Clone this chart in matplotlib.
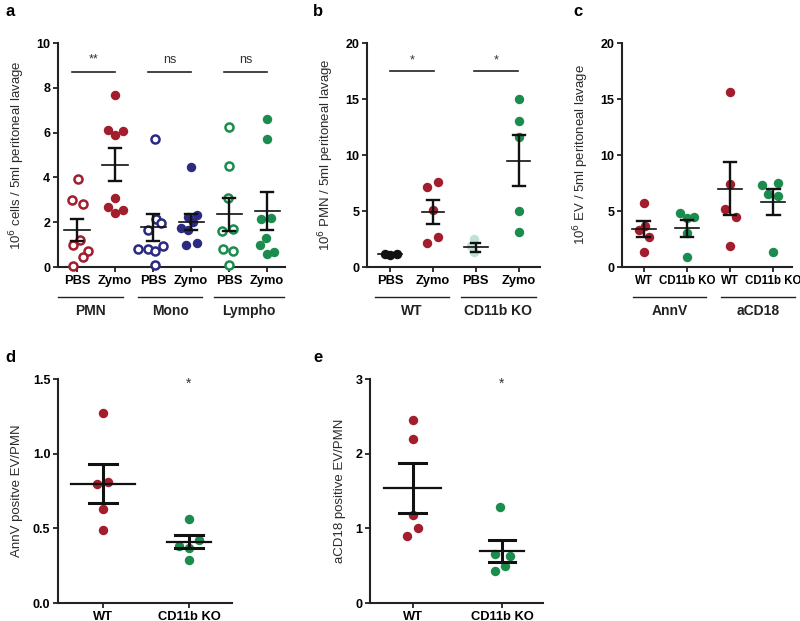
import matplotlib
matplotlib.use("Agg")
import matplotlib.pyplot as plt
import matplotlib.transforms as mtransforms

plt.rcParams['font.family'] = ['Liberation Sans', 'DejaVu Sans']

RED = '#a21d2e'
NAVY = '#2b2a80'
GREEN = '#1b8c4e'
LIGHT = '#bfe2d6'
BLACK = '#111111'

# ---- panel a: cells per lavage
a_ticks = ['PBS', 'Zymo', 'PBS', 'Zymo', 'PBS', 'Zymo']
a_groups = ['PMN', 'Mono', 'Lympho']
a_sig = ['**', 'ns', 'ns']
a_vals = [
    [3.95, 3.0, 2.8, 1.0, 1.2, 0.7, 0.45, 0.05],
    [7.7, 6.1, 5.9, 6.05, 3.1, 2.7, 2.4, 2.55],
    [5.7, 2.15, 1.97, 1.65, 0.8, 0.8, 0.7, 0.95, 0.1],
    [4.45, 2.25, 2.3, 2.0, 1.75, 1.65, 1.0, 1.05],
    [6.25, 4.5, 3.1, 1.6, 1.7, 0.8, 0.7, 0.1],
    [6.6, 5.7, 2.15, 2.2, 1.3, 1.0, 0.6, 0.65],
]
a_jit = [
    [0.03, -0.13, 0.16, -0.11, 0.08, 0.29, 0.16, -0.11],
    [0, -0.18, 0, 0.21, 0, -0.18, 0, 0.21],
    [0.05, 0.08, 0.21, -0.13, -0.39, -0.13, 0.05, 0.26, 0.05],
    [0, -0.08, 0.16, 0.05, -0.26, -0.08, -0.13, 0.16],
    [0, 0, -0.03, -0.2, 0.1, -0.17, 0.1, 0],
    [0, 0, -0.16, 0.11, -0.03, -0.2, 0, 0.17],
]
a_mean = [1.65, 4.57, 1.78, 2.0, 2.35, 2.5]
a_sem = [0.5, 0.74, 0.6, 0.37, 0.75, 0.83]
a_col = [RED, RED, NAVY, NAVY, GREEN, GREEN]
a_open = [True, False, True, False, True, False]

# ---- panel b: PMN per lavage
b_ticks = ['PBS', 'Zymo', 'PBS', 'Zymo']
b_groups = ['WT', 'CD11b KO']
b_vals = [
    [1.2, 1.05, 1.15],
    [7.1, 7.6, 5.1, 2.7, 2.1],
    [2.5, 1.9, 1.3],
    [15.0, 13.0, 11.6, 5.0, 3.1],
]
b_jit = [[-0.12, 0, 0.16], [-0.14, 0.12, 0, 0.12, -0.14], [-0.05, -0.1, -0.05], [0, 0, 0, 0, 0]]
b_mean = [1.15, 4.9, 1.75, 9.5]
b_sem = [0.06, 1.1, 0.37, 2.3]
b_col = [BLACK, RED, LIGHT, GREEN]

# ---- panel c: EV per lavage
c_ticks = ['WT', 'CD11b KO', 'WT', 'CD11b KO']
c_groups = ['AnnV', 'aCD18']
c_vals = [
    [5.7, 3.3, 3.7, 2.7, 1.35],
    [4.85, 4.4, 4.5, 3.0, 0.85],
    [15.6, 7.4, 5.2, 4.5, 1.9],
    [7.3, 7.5, 6.5, 6.3, 1.3],
]
c_jit = [[0, -0.12, 0.02, 0.12, 0], [-0.16, 0, 0.16, 0, 0], [0, 0, -0.12, 0.14, 0], [-0.25, 0.12, -0.12, 0.12, 0]]
c_mean = [3.4, 3.45, 7.0, 5.8]
c_sem = [0.7, 0.75, 2.35, 1.15]
c_col = [RED, GREEN, RED, GREEN]

# ---- panel d / e: EV per PMN
de_ticks = ['WT', 'CD11b KO']
d_vals = [[1.27, 0.80, 0.81, 0.63, 0.49], [0.56, 0.385, 0.42, 0.37, 0.29]]
d_jit = [[0, -0.07, 0.06, 0, 0], [0, -0.12, 0.12, 0, 0]]
d_mean = [0.80, 0.41]
d_sem = [0.13, 0.045]
e_vals = [[2.45, 2.19, 1.18, 1.0, 0.9], [1.29, 0.65, 0.625, 0.49, 0.43]]
e_jit = [[0, 0, 0, 0.06, -0.07], [-0.02, -0.08, 0.09, 0.03, -0.08]]
e_mean = [1.54, 0.70]
e_sem = [0.33, 0.15]
de_col = [RED, GREEN]

fig = plt.figure(figsize=(8.0, 6.21), dpi=100)


def style_axis(ax, ylim, yticks, ylabel, xlim, ticks, fmt='{:g}', xfs=9.3):
    ax.set_xlim(*xlim)
    ax.set_ylim(*ylim)
    for s in ['top', 'right']:
        ax.spines[s].set_visible(False)
    for s in ['left', 'bottom']:
        ax.spines[s].set_linewidth(1.5)
        ax.spines[s].set_color('#222222')
    ax.set_yticks(yticks)
    ax.set_yticklabels([fmt.format(t) for t in yticks], fontsize=9, fontweight='bold')
    ax.set_xticks(range(len(ticks)))
    ax.set_xticklabels(ticks, fontsize=xfs, fontweight='bold')
    ax.tick_params(axis='both', width=1.3, length=3.5, color='#222222', pad=2)
    ax.set_ylabel(ylabel, fontsize=9.5, color='#2a2a2a', labelpad=7)


def draw_groups(ax, vals, jit, means, sems, cols, opens=None, mw=0.3, cw=0.15, lw_err=1.8, lw_mean=1.3, ms=6.5):
    for i, v in enumerate(vals):
        xs = [i + j for j in jit[i]]
        if opens is not None and opens[i]:
            ax.plot(xs, v, 'o', ms=ms - 1.0, mfc='white', mec=cols[i], mew=1.8, zorder=3, clip_on=False)
        else:
            ax.plot(xs, v, 'o', ms=ms, mfc=cols[i], mec=cols[i], mew=0, zorder=3, clip_on=False)
    for i, (m, s) in enumerate(zip(means, sems)):
        w = mw[i] if isinstance(mw, list) else mw
        c = cw[i] if isinstance(cw, list) else cw
        ax.plot([i, i], [m - s, m + s], color=BLACK, lw=lw_err, zorder=4, solid_capstyle='butt')
        ax.plot([i - c, i + c], [m + s, m + s], color=BLACK, lw=lw_err, zorder=4)
        ax.plot([i - c, i + c], [m - s, m - s], color=BLACK, lw=lw_err, zorder=4)
        ax.plot([i - w, i + w], [m, m], color=BLACK, lw=lw_mean, zorder=4)


def group_labels(ax, groups, spans, y_line=-0.135, y_text=-0.195):
    tr = mtransforms.blended_transform_factory(ax.transData, ax.transAxes)
    for g, (x0, x1) in zip(groups, spans):
        ax.plot([x0, x1], [y_line, y_line], color='#222222', lw=1.0, transform=tr, clip_on=False)
        ax.text((x0 + x1) / 2, y_text, g, transform=tr, ha='center', va='center',
                fontsize=10, fontweight='bold', color='#222222')


def sig_bar(ax, x0, x1, y, ytext, text):
    ax.plot([x0, x1], [y, y], color='#222222', lw=1.2, clip_on=False)
    ax.text((x0 + x1) / 2, ytext, text, ha='center', va='center', fontsize=9, color='#333333')


# panel a
ax = fig.add_axes([58 / 800, 1 - 267 / 621, 227 / 800, 224 / 621])
style_axis(ax, (0, 10), [0, 2, 4, 6, 8, 10], '10$^6$ cells / 5ml peritoneal lavage', (-0.5, 5.47), a_ticks)
draw_groups(ax, a_vals, a_jit, a_mean, a_sem, a_col, opens=a_open, mw=0.33, cw=0.16, lw_err=1.7, lw_mean=1.2, ms=6.8)
group_labels(ax, a_groups, [(-0.5, 1.2), (1.6, 3.3), (3.6, 5.45)])
for k, t in enumerate(a_sig):
    sig_bar(ax, 2 * k - 0.13, 2 * k + 1.0, 8.7, 9.25, t)

# panel b
ax = fig.add_axes([367 / 800, 1 - 267 / 621, 173 / 800, 224 / 621])
style_axis(ax, (0, 20), [0, 5, 10, 15, 20], '10$^6$ PMN / 5ml peritoneal lavage', (-0.54, 3.5), b_ticks)
draw_groups(ax, b_vals, b_jit, b_mean, b_sem, b_col, mw=[0.28, 0.26, 0.28, 0.26], cw=[0.14, 0.14, 0.11, 0.14],
            lw_err=1.7, lw_mean=1.2, ms=6.8)
group_labels(ax, b_groups, [(-0.35, 1.37), (1.65, 3.4)])
sig_bar(ax, 0, 1.03, 17.5, 18.4, '*')
sig_bar(ax, 1.95, 2.98, 17.5, 18.4, '*')

# panel c
ax = fig.add_axes([622 / 800, 1 - 267 / 621, 170 / 800, 224 / 621])
style_axis(ax, (0, 20), [0, 5, 10, 15, 20], '10$^6$ EV / 5ml peritoneal lavage', (-0.51, 3.44), c_ticks, xfs=8.3)
draw_groups(ax, c_vals, c_jit, c_mean, c_sem, c_col, mw=0.27, cw=0.15, lw_err=1.7, lw_mean=1.2, ms=6.8)
group_labels(ax, c_groups, [(-0.25, 1.45), (1.8, 3.5)])

# panel d
ax = fig.add_axes([58 / 800, 1 - 603 / 621, 174 / 800, 224 / 621])
style_axis(ax, (0, 1.5), [0.0, 0.5, 1.0, 1.5], 'AnnV positve EV/PMN', (-0.52, 1.5), de_ticks, fmt='{:.1f}')
draw_groups(ax, d_vals, d_jit, d_mean, d_sem, de_col, mw=[0.37, 0.26], cw=0.16, lw_err=2.2, lw_mean=1.6, ms=6.8)
ax.text(1, 1.465, '*', ha='center', va='center', fontsize=10, color='#333333')

# panel e
ax = fig.add_axes([370 / 800, 1 - 603 / 621, 173 / 800, 224 / 621])
style_axis(ax, (0, 3), [0, 1, 2, 3], 'aCD18 positive EV/PMN', (-0.48, 1.46), de_ticks)
draw_groups(ax, e_vals, e_jit, e_mean, e_sem, de_col, mw=[0.32, 0.25], cw=0.15, lw_err=2.2, lw_mean=1.6, ms=6.8)
ax.text(1, 2.93, '*', ha='center', va='center', fontsize=10, color='#333333')

# panel letters
for lab, x, y in [('a', 5, 12), ('b', 313, 12), ('c', 573, 12), ('d', 5, 358), ('e', 313, 358)]:
    fig.text(x / 800, 1 - y / 621, lab, fontsize=12, fontweight='bold', va='center', ha='left')

fig.savefig('out.png', dpi=100)
